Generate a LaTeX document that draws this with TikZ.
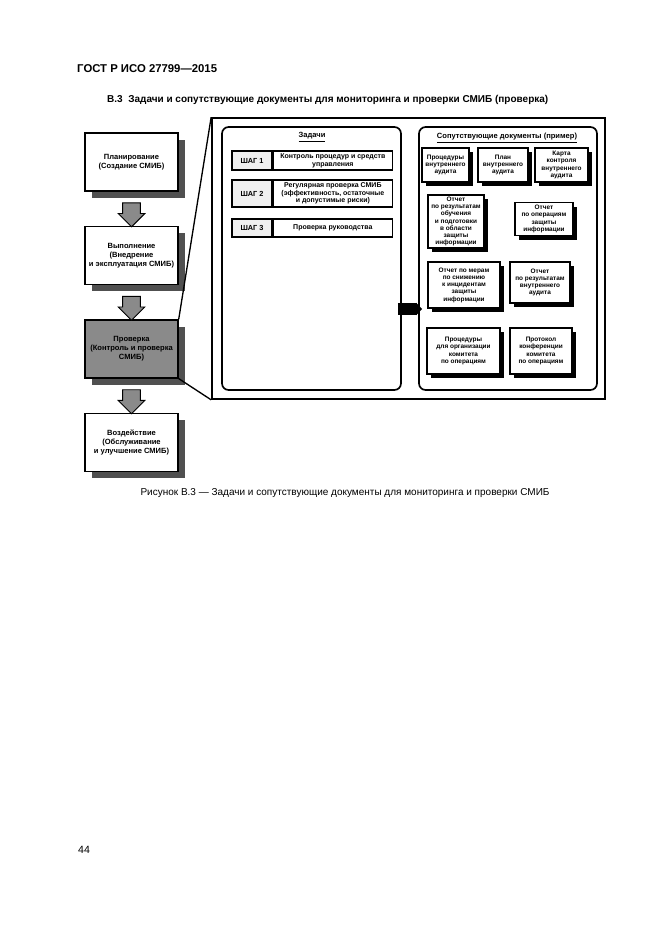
\documentclass[tikz,border=0pt]{standalone}
\usepackage{fontspec}
\setmainfont{Liberation Sans}
\usepackage{xcolor}
\usetikzlibrary{arrows.meta,positioning,calc,shadows,shapes.arrows}
\definecolor{mycshadow}{HTML}{505050}
\definecolor{mycgray}{HTML}{8A8A8A}
\definecolor{mycdots}{HTML}{F0F0F0}

\begin{document}
\begin{tikzpicture}[
 x=0.9pt,y=-0.9pt,
 node distance=30.6pt,
 b/.style={draw,line width=1.3pt,fill=white,align=center,minimum width=83.7pt,minimum height=52.2pt,inner sep=1pt,font=\fontsize{6.8}{8}\selectfont\bfseries,drop shadow={shadow xshift=6.3pt,shadow yshift=-6.3pt,fill=mycshadow,opacity=1}},
 ba/.style={single arrow,draw,fill=mycgray,line width=0.8pt,shape border rotate=270,inner xsep=7.6pt,inner ysep=0pt,minimum height=21.6pt,single arrow head extend=4pt},
 frm/.style={draw,line width=1.5pt,rounded corners=6pt,minimum height=236.7pt},
 st/.style={draw,line width=1.1pt,fill=mycdots,minimum width=36pt,inner sep=0pt,font=\fontsize{6.6}{7.5}\selectfont\bfseries},
 tx/.style={draw,line width=1.3pt,fill=white,minimum width=107.1pt,inner sep=1pt,align=center,font=\fontsize{6.3}{7}\selectfont\bfseries},
 doc/.style={draw,line width=1.2pt,fill=white,align=center,inner sep=1pt,font=\fontsize{5.8}{6.5}\selectfont\bfseries,drop shadow={shadow xshift=3.6pt,shadow yshift=-3.6pt,fill=black,opacity=1}},
 hd/.style={font=\fontsize{6.8}{8}\selectfont\bfseries},
 ptr/.style={line width=10.8pt,-{Triangle[width=10.8pt,length=5.4pt]},shorten <=-3.6pt,shorten >=-3.6pt}
]
\useasboundingbox (0,0) rectangle (661,935);
\node[anchor=base west,inner sep=0pt,font=\fontsize{10.2}{12}\selectfont\bfseries] (gost) at (77,72) {ГОСТ Р ИСО 27799—2015};
\node[anchor=base west,inner sep=0pt,font=\fontsize{9}{11}\selectfont\bfseries] (ttl) at (107,102) {В.3\ \ Задачи и сопутствующие документы для мониторинга и проверки СМИБ (проверка)};

\node[draw,line width=1.5pt,minimum width=353.7pt,minimum height=252.9pt] (zone) at (408.5,258.5) {};
\node[frm,minimum width=161.1pt] (task) at (311.5,258.5) {};
\node[frm,minimum width=160.2pt] (docs) at (508,258.5) {};

\node[b] (plan) at (131.5,162) {Планирование\\(Создание СМИБ)};
\node[b,below=of plan] (vyp) {Выполнение\\(Внедрение\\и эксплуатация СМИБ)};
\node[b,below=of vyp,fill=mycgray] (prov) {Проверка\\(Контроль и проверка\\СМИБ)};
\node[b,below=of prov] (voz) {Воздействие\\(Обслуживание\\и улучшение СМИБ)};
\node[ba] (a1) at ($(plan.south)!0.55!(vyp.north)$) {};
\node[ba] (a2) at ($(vyp.south)!0.55!(prov.north)$) {};
\node[ba] (a3) at ($(prov.south)!0.55!(voz.north)$) {};
\draw[line width=1.2pt] (prov.north east) -- (zone.north west);
\draw[line width=1.2pt] (prov.south east) -- (zone.south west);

\node[hd] (ttask) at (312,137) {\underline{Задачи}};
\node[st,minimum height=17.1pt] (s1) at (252,160.5) {ШАГ 1};
\node[tx,minimum height=17.1pt,right=0pt of s1] (t1) {Контроль процедур и средств\\управления};
\node[st,minimum height=24.3pt] (s2) at (252,193.5) {ШАГ 2};
\node[tx,minimum height=24.3pt,right=0pt of s2] (t2) {Регулярная проверка СМИБ\\(эффективность, остаточные\\и допустимые риски)};
\node[st,minimum height=16.2pt] (s3) at (252,228) {ШАГ 3};
\node[tx,minimum height=16.2pt,right=0pt of s3] (t3) {Проверка руководства};

\node[hd] (tdoc) at (507,138) {\underline{Сопутствующие документы (пример)}};
\node[doc,minimum width=42.3pt,minimum height=30.6pt] (d1) at (445.5,165) {Процедуры\\внутреннего\\аудита};
\node[doc,minimum width=45pt,minimum height=30.6pt] (d2) at (503,165) {План\\внутреннего\\аудита};
\node[doc,minimum width=47.7pt,minimum height=30.6pt] (d3) at (561.5,165) {Карта\\контроля\\внутреннего\\аудита};
\node[doc,minimum width=50.4pt,minimum height=47.7pt] (d4) at (456,221.5) {Отчет\\по результатам\\обучения\\и подготовки\\в области\\защиты\\информации};
\node[doc,minimum width=52.2pt,minimum height=29.7pt] (d5) at (544,219) {Отчет\\по операциям\\защиты\\информации};
\node[doc,minimum width=64.8pt,minimum height=41.4pt] (d6) at (464,285) {Отчет по мерам\\по снижению\\к инцидентам\\защиты\\информации};
\node[doc,minimum width=54pt,minimum height=36.9pt] (d7) at (540,282.5) {Отчет\\по результатам\\внутреннего\\аудита};
\node[doc,minimum width=65.7pt,minimum height=41.4pt] (d8) at (463.5,351) {Процедуры\\для организации\\комитета\\по операциям};
\node[doc,minimum width=55.8pt,minimum height=41.4pt] (d9) at (541,351) {Протокол\\конференции\\комитета\\по операциям};
\draw[ptr] (task.east |- 0,309) -- (docs.west |- 0,309);

\node[font=\fontsize{9}{11}\selectfont] (cap) at (345,493) {Рисунок В.3 — Задачи и сопутствующие документы для мониторинга и проверки СМИБ};
\node[anchor=base west,inner sep=0pt,font=\fontsize{9.5}{11}\selectfont] (pg) at (78,853) {44};
\end{tikzpicture}
\end{document}
